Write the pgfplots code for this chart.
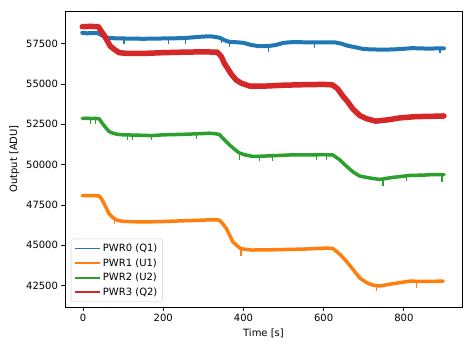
\documentclass[border=0pt]{standalone}
\usepackage{fontspec}
\setmainfont{DejaVu Sans}
\usepackage{pgfplots}
\pgfplotsset{compat=1.18}
\definecolor{c0}{HTML}{1F77B4}
\definecolor{c1}{HTML}{FF7F0E}
\definecolor{c2}{HTML}{2CA02C}
\definecolor{c3}{HTML}{D62728}
\begin{document}
\begin{tikzpicture}
\useasboundingbox (-65pt,-40pt) rectangle (408pt,307pt);
\begin{axis}[
  scale only axis, width=397pt, height=296pt,
  at={(0,0)}, anchor=south west,
  xmin=-45, xmax=945, ymin=41165, ymax=59535,
  xtick={0,200,400,600,800},
  ytick={42500,45000,47500,50000,52500,55000,57500},
  scaled y ticks=false, scaled x ticks=false,
  /pgf/number format/1000 sep={},
  /pgf/number format/assume math mode=true,
  tick label style={font=\fontsize{10}{12}\selectfont},
  label style={font=\fontsize{10}{12}\selectfont},
  tick align=outside, xtick pos=lower, ytick pos=left,
  major tick length=3.5pt,
  every tick/.style={black, line width=0.8pt},
  axis line style={line width=0.8pt},
  xlabel={Time [s]}, ylabel={Output [ADU]},
  legend style={at={(0.015,0.017)}, anchor=south west, draw=black!20, rounded corners=2pt,
    font=\fontsize{10}{12}\selectfont, row sep=1.5pt, inner sep=3pt},
  legend cell align=left,
  legend image code/.code={\draw[#1] (0pt,0pt) -- (25pt,0pt);},
  line join=round, line cap=round,
  unbounded coords=jump,
]
\addlegendimage{c0, line width=1.8pt, line cap=butt}
\addlegendentry{PWR0 (Q1)}
\addlegendimage{c1, line width=1.8pt, line cap=butt}
\addlegendentry{PWR1 (U1)}
\addlegendimage{c2, line width=1.8pt, line cap=butt}
\addlegendentry{PWR2 (U2)}
\addlegendimage{c3, line width=1.8pt, line cap=butt}
\addlegendentry{PWR3 (Q2)}
% PWR0
\addplot[c0, line width=4pt, forget plot] table {
-2 58180
10 58150
25 58175
38 58150
45 58050
55 57920
65 57860
80 57840
100 57830
150 57810
200 57830
250 57850
300 57950
320 57960
340 57880
355 57700
365 57620
380 57600
400 57560
420 57420
440 57350
462 57360
480 57420
500 57560
520 57600
577 57590
630 57580
645 57500
660 57380
680 57280
700 57170
750 57130
790 57170
820 57230
860 57200
900 57220
};
\addplot[c0, line width=1.2pt, forget plot, line cap=butt] table {
102 57830
102 57500
nan nan
213 57840
213 57500
nan nan
255 57850
255 57500
nan nan
345 57870
345 57550
nan nan
366 57620
366 57300
nan nan
463 57360
463 57020
nan nan
578 57590
578 57250
nan nan
890 57220
890 56900
};
% PWR1
\addplot[c1, line width=3.5pt, forget plot] table {
-2 48070
20 48080
40 48060
48 47800
55 47450
65 46950
75 46700
85 46550
100 46480
148 46440
200 46470
232 46500
280 46540
323 46580
340 46560
348 46350
357 46050
365 45650
373 45230
385 44950
394 44780
420 44700
482 44720
550 44760
607 44820
623 44800
640 44450
657 44000
673 43500
690 42970
707 42680
723 42520
740 42470
770 42600
815 42770
850 42750
898 42770
};
\addplot[c1, line width=1.2pt, forget plot, line cap=butt] table {
78 46650
78 46300
nan nan
394 44780
394 44300
nan nan
732 42490
732 42150
nan nan
832 42760
832 42350
nan nan
};
% PWR2
\addplot[c2, line width=3.5pt, forget plot] table {
-2 52870
10 52880
20 52860
30 52870
40 52850
50 52500
58 52250
65 52050
75 51950
86 51880
100 51850
150 51820
170 51800
200 51850
250 51880
300 51930
315 51950
330 51920
340 51870
350 51600
358 51400
365 51230
378 50950
390 50720
405 50600
423 50510
440 50520
480 50560
523 50610
560 50600
600 50620
623 50600
640 50300
657 49900
673 49550
690 49290
720 49150
740 49080
770 49200
815 49330
850 49350
870 49380
900 49380
};
\addplot[c2, line width=1.2pt, forget plot, line cap=butt] table {
19 52860
19 52500
nan nan
31 52870
31 52550
nan nan
111 51850
111 51550
nan nan
123 51840
123 51550
nan nan
171 51800
171 51550
nan nan
282 51900
282 51600
nan nan
390 50720
390 50300
nan nan
441 50520
441 50200
nan nan
473 50550
473 50250
nan nan
582 50610
582 50300
nan nan
607 50620
607 50300
nan nan
748 49060
748 48680
nan nan
807 49320
807 49000
nan nan
895 49380
895 48950
};
% PWR3
\addplot[c3, line width=5.5pt, forget plot] table {
-2 58560
20 58580
38 58560
45 58300
52 58050
60 57700
68 57350
78 57150
90 56950
110 56900
150 56900
200 56950
250 56980
300 57000
335 56980
345 56700
352 56300
360 56000
370 55600
382 55250
395 55050
415 54880
450 54870
500 54930
550 54960
600 54980
622 54950
635 54700
648 54250
660 53900
673 53450
690 53050
707 52850
730 52700
760 52780
790 52900
830 52980
870 53000
900 53020
};
\end{axis}
\end{tikzpicture}
\end{document}
